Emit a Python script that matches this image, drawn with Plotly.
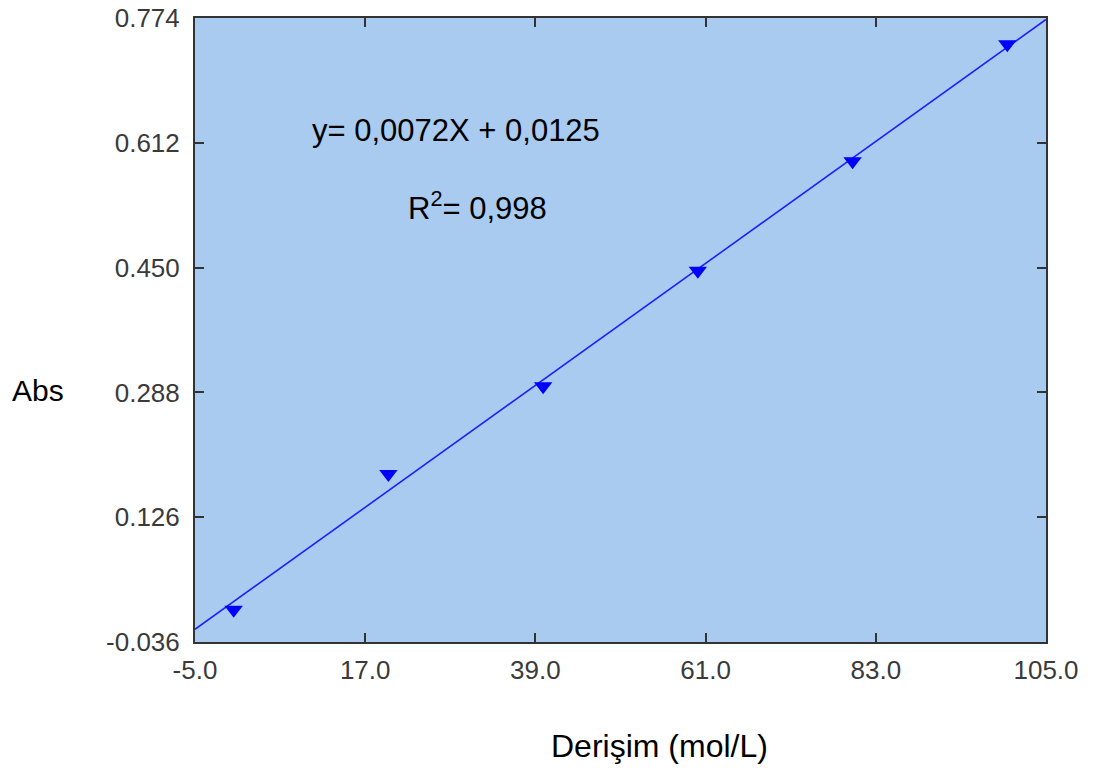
import plotly.graph_objects as go
import numpy as np

# Data
concentration = [0, 20, 40, 60, 80, 100]
absorbance = [0.006, 0.182, 0.296, 0.446, 0.588, 0.740]
equation_text = "y= 0,0072X + 0,0125"
r_squared = "0,998"
x_ticks = [-5.0, 17.0, 39.0, 61.0, 83.0, 105.0]
y_ticks = [-0.036, 0.126, 0.288, 0.450, 0.612, 0.774]

# Regression line fitted to the data
slope, intercept = np.polyfit(concentration, absorbance, 1)
line_x = np.array([x_ticks[0], x_ticks[-1]])
line_y = slope * line_x + intercept

fig = go.Figure()
fig.add_trace(go.Scatter(x=line_x, y=line_y, mode="lines",
                         line=dict(color="#2020ff", width=1.6), showlegend=False))
fig.add_trace(go.Scatter(x=concentration, y=absorbance, mode="markers",
                         marker=dict(symbol="triangle-down", size=16, color="#0000ff"),
                         showlegend=False))

axis_common = dict(showgrid=False, zeroline=False, ticks="inside", ticklen=9,
                   tickcolor="#333333", tickwidth=2, mirror="ticks",
                   showline=True, linecolor="#333333", linewidth=2,
                   ticklabeloverflow="allow", automargin=False,
                   tickfont=dict(family="Liberation Sans, Arial", size=26, color="#3a3a3a"))

fig.update_xaxes(range=[x_ticks[0], x_ticks[-1]], tickvals=x_ticks,
                 ticktext=[f"{v:.1f}" for v in x_ticks], ticklabelstandoff=4, **axis_common)
fig.update_yaxes(range=[y_ticks[0], y_ticks[-1]], tickvals=y_ticks,
                 ticktext=[f"{v:.3f}" for v in y_ticks], ticklabelstandoff=8, **axis_common)

def px(xp, yp):
    return (xp - 195) / 851, (642 - yp) / 624

txt_font = dict(family="Liberation Sans, Arial", size=31, color="#000000")
ex, ey = px(456, 130)
fig.add_annotation(xref="paper", yref="paper", x=ex, y=ey, showarrow=False,
                   text=equation_text, font=txt_font, xanchor="center", yanchor="middle")
rx, ry = px(477, 206)
fig.add_annotation(xref="paper", yref="paper", x=rx, y=ry, showarrow=False,
                   text=f"R<sup>2</sup>= {r_squared}", font=txt_font,
                   xanchor="center", yanchor="middle")
ax_, ay_ = px(38, 390)
fig.add_annotation(xref="paper", yref="paper", x=ax_, y=ay_, showarrow=False,
                   text="Abs", font=dict(family="Liberation Sans, Arial", size=30, color="#000000"),
                   xanchor="center", yanchor="middle")
dx, dy = px(659, 746)
fig.add_annotation(xref="paper", yref="paper", x=dx, y=dy, showarrow=False,
                   text="Derişim (mol/L)", font=dict(family="Liberation Sans, Arial", size=32, color="#000000"),
                   xanchor="center", yanchor="middle")

fig.update_layout(width=1093, height=778,
                  margin=dict(l=187, r=55, t=10, b=144),
                  plot_bgcolor="#a9cbf0", paper_bgcolor="#ffffff")

fig.write_html("out.html")
